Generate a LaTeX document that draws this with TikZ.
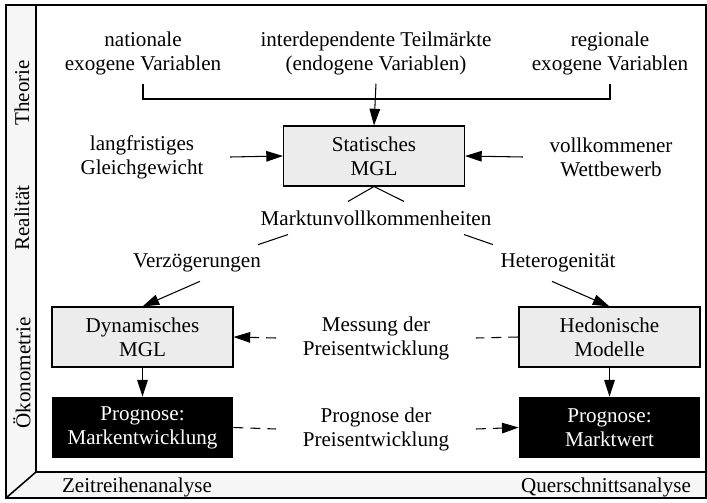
\documentclass[tikz,border=0pt]{standalone}
\usepackage{fontspec}
\setmainfont{Liberation Serif}
\usetikzlibrary{arrows.meta,positioning,calc}

\begin{document}
\begin{tikzpicture}[
    x=0.02cm, y=-0.02cm,
    font=\fontsize{12}{13.7}\selectfont,
    model/.style={draw, line width=0.6pt, fill=gray!15, minimum width=3.62cm, minimum height=1.2cm, align=center},
    prog/.style={fill=black, text=white, minimum width=3.62cm, minimum height=1.22cm, align=center},
    lbl/.style={align=center, inner xsep=15pt, inner ysep=5pt},
    axis/.style={inner sep=2pt},
    arr/.style={line width=0.6pt, -{Triangle[length=9.5pt,width=6pt]}},
    dashln/.style={line width=0.6pt, dash pattern=on 5.7pt off 4pt}
]
    \useasboundingbox (0,0) rectangle (707,503);

    % frame with the two axes
    \fill[gray!7] (6,5) rectangle (706,498);
    \fill[white] (36,5) rectangle (706,472);
    \draw[line width=0.9pt] (36,5) -- (36,472) -- (706,472) (36,472) -- (6,498);
    \draw[line width=0.9pt] (6,5) rectangle (706,498);

    \node[axis, rotate=90] (theo) at (22,93) {Theorie};
    \node[axis, rotate=90] (real) at (22,218) {Realität};
    \node[axis, rotate=90] (oeko) at (22,373) {Ökonometrie};
    \node[axis] (zeit) at (137,487) {Zeitreihenanalyse};
    \node[axis] (quer) at (606,487) {Querschnittsanalyse};

    % theory level
    \node[lbl] (nat) at (143,53) {nationale\\exogene Variablen};
    \node[lbl] (inter) at (376,53) {interdependente Teilmärkte\\(endogene Variablen)};
    \node[lbl] (reg) at (610,53) {regionale\\exogene Variablen};
    \node[model] (stat) at (374,156) {Statisches\\MGL};
    \node[lbl] (lang) at (142,157) {langfristiges\\Gleichgewicht};
    \node[lbl] (vollk) at (611,157) {vollkommener\\Wettbewerb};
    \coordinate (brk) at (376,99);

    % reality level
    \node[lbl] (markt) at (376,218) {Marktunvollkommenheiten};
    \node[lbl] (verz) at (197,263) {Verzögerungen};
    \node[lbl] (hetero) at (558,263) {Heterogenität};

    % econometrics level
    \node[model] (dyn) at (142.5,337) {Dynamisches\\MGL};
    \node[model] (hed) at (609.5,337) {Hedonische\\Modelle};
    \node[lbl] (mess) at (376,338) {Messung der\\Preisentwicklung};
    \node[prog] (pmark) at (142.5,427.5) {Prognose:\\Markentwicklung};
    \node[prog] (pwert) at (609.5,427.5) {Prognose:\\Marktwert};
    \node[lbl] (pprog) at (376,429) {Prognose der\\Preisentwicklung};

    \draw[line width=0.6pt] (nat.south) |- (brk) -| (reg.south);
    \draw[arr] (inter.south) -- (stat.north);
    \draw[arr] (lang.east) -- (stat.west);
    \draw[arr] (vollk.west) -- (stat.east);

    \draw[line width=0.6pt] ($(markt.north)+(-28,0)$) -- (stat.south) -- ($(markt.north)+(28,0)$);
    \draw[line width=0.6pt] ($(markt.south)+(-88,0)$) -- ($(verz.north)+(61,0)$);
    \draw[line width=0.6pt] ($(markt.south)+(88,0)$) -- ($(hetero.north)+(-65,0)$);
    \draw[arr] ($(verz.south)+(3,0)$) -- (dyn.north);
    \draw[arr] ($(hetero.south)+(-6,0)$) -- (hed.north);

    \draw[arr] (dyn) -- (pmark);
    \draw[arr] (hed) -- (pwert);
    \draw[dashln] (hed.west) -- (mess.east);
    \draw[dashln, arr] (mess.west) -- (dyn.east);
    \draw[dashln] (pmark.east) -- (pprog.west);
    \draw[dashln, arr] (pprog.east) -- (pwert.west);
\end{tikzpicture}
\end{document}
